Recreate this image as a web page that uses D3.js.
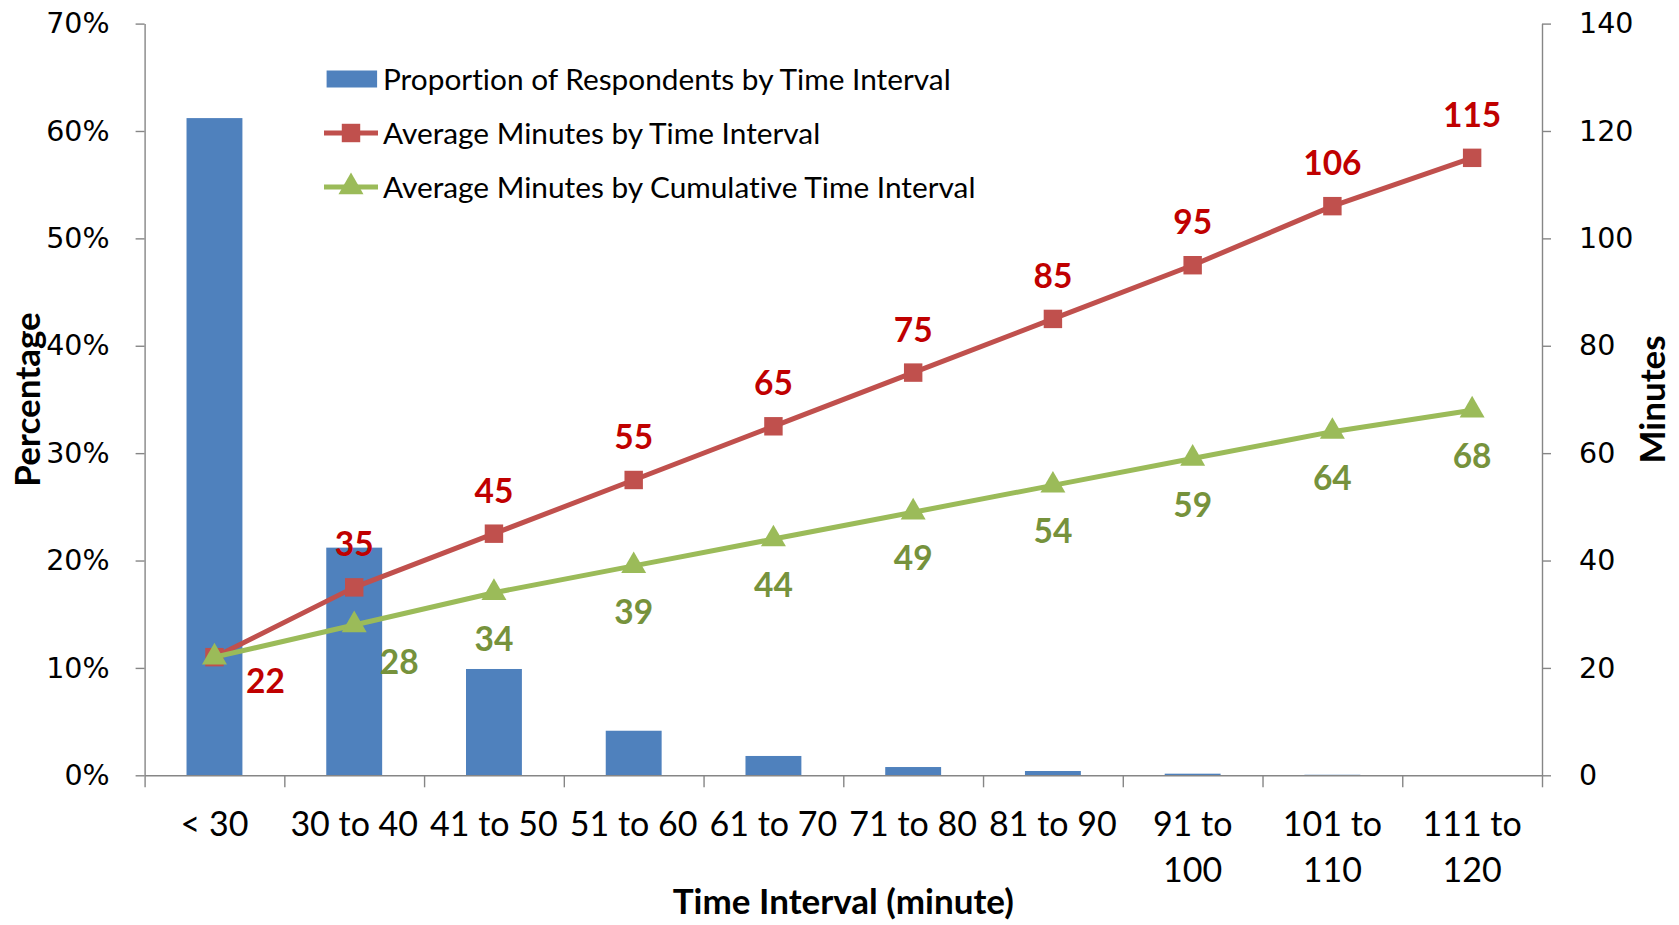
<!DOCTYPE html>
<html><head><meta charset="utf-8">
<script src="https://cdn.jsdelivr.net/npm/d3@7"></script>
<style>body{margin:0;background:#fff} svg{display:block} text{font-variant-ligatures:none}</style>
</head><body>
<svg id="chart" width="1679" height="925"></svg>
<script>
const categories = ["< 30", "30 to 40", "41 to 50", "51 to 60", "61 to 70", "71 to 80", "81 to 90", "91 to 100", "101 to 110", "111 to 120"];
const proportion = [0.612, 0.212, 0.099, 0.0415, 0.018, 0.0077, 0.004, 0.0015, 0.0005, 0.0002];
const avgMinutes = [22, 35, 45, 55, 65, 75, 85, 95, 106, 115];
const cumMinutes = [22, 28, 34, 39, 44, 49, 54, 59, 64, 68];
const pctTicks = [0, 0.1, 0.2, 0.3, 0.4, 0.5, 0.6, 0.7];
const minTicks = [0, 20, 40, 60, 80, 100, 120, 140];
const seriesNames = ["Proportion of Respondents by Time Interval", "Average Minutes by Time Interval", "Average Minutes by Cumulative Time Interval"];
const axisTitles = {x: "Time Interval (minute)", yLeft: "Percentage", yRight: "Minutes"};

const svg = d3.select("#chart");
const L = 144.6, R = 1542, T = 23.6, B = 775.3;
const axisColor = "#868686";
const txtFont = "Lato, 'Liberation Sans', sans-serif";
const numFont = "'DejaVu Sans', Verdana, sans-serif";
const colors = {bar: "#4F81BD", red: "#C0504D", green: "#9BBB59", redLbl: "#C00000", greenLbl: "#76923C"};
const sqSize = 340, triSize = 270;

const x = d3.scaleBand().domain(categories).range([L, R]).paddingInner(0.6).paddingOuter(0.3);
const xEdges = d3.scaleLinear().domain([0, categories.length]).range([L, R]);
const yL = d3.scaleLinear().domain([0, 0.7]).range([B, T]);
const yR = d3.scaleLinear().domain([0, 140]).range([B, T]);
const cx = c => x(c) + x.bandwidth() / 2;

// bars
svg.append("g").selectAll("rect").data(categories).join("rect")
  .attr("x", c => x(c)).attr("width", x.bandwidth())
  .attr("y", (c, i) => yL(proportion[i])).attr("height", (c, i) => B - yL(proportion[i]))
  .attr("fill", colors.bar);

function styleAxis(g) {
  g.selectAll(".domain, .tick line").attr("stroke", axisColor).attr("stroke-width", 1.4);
}

// left axis
svg.append("g").attr("transform", `translate(${L},0)`)
  .call(d3.axisLeft(yL).tickValues(pctTicks).tickFormat(d3.format(".0%")).tickSize(9).tickSizeOuter(0).tickPadding(26))
  .call(styleAxis)
  .call(g => g.selectAll("text").attr("font-family", numFont).attr("font-size", 28.5).attr("fill", "#000"));

// right axis
svg.append("g").attr("transform", `translate(${R},0)`)
  .call(d3.axisRight(yR).tickValues(minTicks).tickSize(9).tickSizeOuter(0).tickPadding(28))
  .call(styleAxis)
  .call(g => g.selectAll("text").attr("font-family", numFont).attr("font-size", 28.5).attr("fill", "#000"));

// x axis tick marks at band edges
svg.append("g").attr("transform", `translate(0,${B})`)
  .call(d3.axisBottom(xEdges).tickValues(d3.range(categories.length + 1)).tickFormat("").tickSize(12).tickSizeOuter(0))
  .call(styleAxis);

// x axis labels
const xl = svg.append("g").attr("transform", `translate(0,${B})`)
  .call(d3.axisBottom(x).tickSize(0).tickPadding(0));
xl.select(".domain").remove();
xl.selectAll("text").each(function(d) {
  const t = d3.select(this);
  t.attr("font-family", txtFont).attr("font-size", 34).attr("fill", "#000").attr("y", 61).attr("dy", 0);
  const w = this.getComputedTextLength();
  if (w > x.step() - 2) {
    const idx = d.lastIndexOf(" ");
    t.text(null);
    t.append("tspan").attr("x", 0).attr("y", 61).text(d.slice(0, idx));
    t.append("tspan").attr("x", 0).attr("y", 61 + 46).text(d.slice(idx + 1));
  }
});

// lines
const line = d3.line().x((v, i) => cx(categories[i])).y(v => yR(v));
function drawSeries(vals, color, symbol, size) {
  svg.append("path").datum(vals).attr("d", line).attr("fill", "none")
    .attr("stroke", color).attr("stroke-width", 5).attr("stroke-linejoin", "round");
  svg.append("g").selectAll("path").data(vals).join("path")
    .attr("d", d3.symbol().type(symbol).size(size))
    .attr("transform", (v, i) => `translate(${cx(categories[i])},${yR(v)})`)
    .attr("fill", color);
}
drawSeries(avgMinutes, colors.red, d3.symbolSquare, sqSize);
drawSeries(cumMinutes, colors.green, d3.symbolTriangle, triSize);

// data labels
const lblG = svg.append("g").attr("font-family", txtFont).attr("font-weight", "bold").attr("font-size", 33.5).attr("text-anchor", "middle");
lblG.selectAll(".g").data(cumMinutes).join("text")
  .filter((v, i) => i > 0)
  .attr("x", (v, i) => cx(categories[i + 1]) + (i + 1 === 1 ? 45 : 0))
  .attr("y", (v, i) => yR(v) + (i + 1 === 1 ? 37 : 46))
  .attr("dy", "0.36em").attr("fill", colors.greenLbl).text(v => v);
lblG.selectAll(".r").data(avgMinutes).join("text")
  .attr("x", (v, i) => cx(categories[i]) + (i === 0 ? 51 : 0))
  .attr("y", (v, i) => yR(v) + (i === 0 ? 24 : -43))
  .attr("dy", "0.36em").attr("fill", colors.redLbl).text(v => v);

// legend
const leg = svg.append("g").attr("font-family", txtFont).attr("font-size", 29.8);
const legY = [79, 133, 187];
leg.append("rect").attr("x", 326.6).attr("y", legY[0] - 8.5).attr("width", 50.5).attr("height", 17).attr("fill", colors.bar);
[[colors.red, d3.symbolSquare, sqSize], [colors.green, d3.symbolTriangle, triSize]].forEach(([c, s, sz], k) => {
  const y = legY[k + 1];
  leg.append("line").attr("x1", 324).attr("x2", 378).attr("y1", y).attr("y2", y).attr("stroke", c).attr("stroke-width", 5);
  leg.append("path").attr("d", d3.symbol().type(s).size(sz)).attr("transform", `translate(351,${y})`).attr("fill", c);
});
leg.selectAll("text").data(seriesNames).join("text")
  .attr("x", 383).attr("y", (d, i) => legY[i]).attr("dy", "0.36em").attr("fill", "#000").text(d => d);

// axis titles
const tf = svg.append("g").attr("font-family", txtFont).attr("font-weight", "bold").attr("font-size", 35).attr("text-anchor", "middle").attr("fill", "#000");
tf.append("text").attr("x", (L + R) / 2).attr("y", 901).attr("dy", "0.36em").text(axisTitles.x);
tf.append("text").attr("transform", `translate(27,${(T + B) / 2}) rotate(-90)`).attr("dy", "0.36em").text(axisTitles.yLeft);
tf.append("text").attr("transform", `translate(1652,${(T + B) / 2}) rotate(-90)`).attr("dy", "0.36em").text(axisTitles.yRight);
</script>
</body></html>
